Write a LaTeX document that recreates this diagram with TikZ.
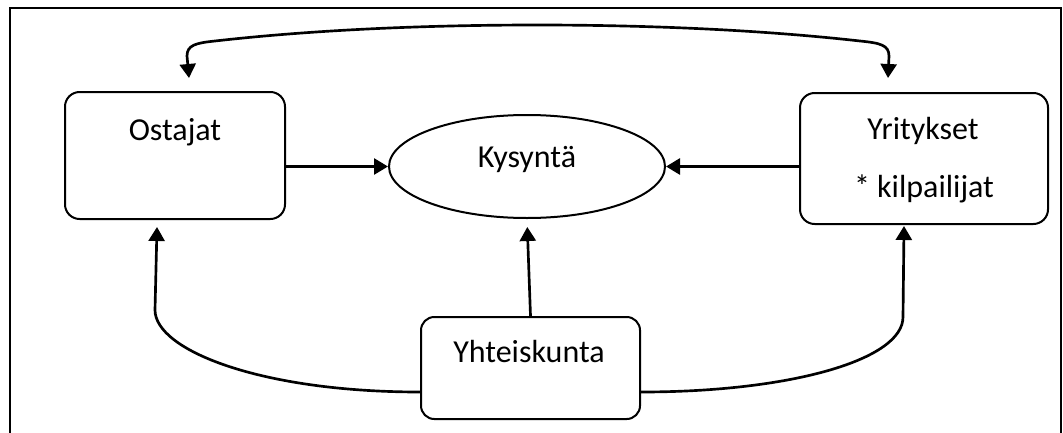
\documentclass[tikz,border=0pt]{standalone}
\usepackage{fontspec}
\setmainfont{Carlito}
\usetikzlibrary{arrows.meta,shapes.geometric}

\tikzset{
  box/.style={draw, line width=1.5pt, rounded corners=11pt, inner sep=0pt},
  oval/.style={draw, ellipse, line width=1.5pt, inner sep=0pt},
  lbl/.style={anchor=base, inner sep=0pt, font=\fontsize{24}{28}\selectfont},
  tip/.style={Triangle[length=10.5pt,width=12pt]},
  conn/.style={line width=2pt, -{Triangle[length=10.5pt,width=12pt]}},
  both/.style={line width=2pt, {Triangle[length=10.5pt,width=12pt]}-{Triangle[length=10.5pt,width=12pt]}},
  frame/.style={line width=1.6pt},
}

\begin{document}
\begin{tikzpicture}[x=0.75pt, y=-0.75pt]
  % page area
  \fill[white] (0,0) rectangle (1063,432);
  \useasboundingbox (0,0) rectangle (1063,432);

  % surrounding frame (open at the bottom edge of the page)
  \draw[frame] (10,436) -- (10,8) -- (1061,8) -- (1061,436);

  % boxes and the central ellipse
  \node[box, minimum width=165pt, minimum height=95.25pt] (ost) at (175,155.5) {};
  \node[box, minimum width=186pt, minimum height=98.25pt] (yri) at (924,158.5) {};
  \node[box, minimum width=164.25pt, minimum height=76.5pt, rounded corners=10pt] (yht) at (530.5,368) {};
  \node[oval, minimum width=207pt, minimum height=77.25pt] (kys) at (527,166.5) {};

  % labels
  \node[lbl] (tost) at (175,140) {Ostajat};
  \node[lbl] (tkys) at (527,167) {Kysyntä};
  \node[lbl] (tyri) at (923,139) {Yritykset};
  \node[lbl] (tkil) at (924,197) {* kilpailijat};
  \node[lbl] (tyht) at (529,362) {Yhteiskunta};

  % free ends of the connectors
  \coordinate (tl) at (189,78);
  \coordinate (tr) at (888,78);
  \coordinate (lt) at (157,227);
  \coordinate (rt) at (904,226);

  % straight arrows into the ellipse
  \draw[conn] (ost.east |- kys.west) -- (kys.west);
  \draw[conn] (yri.west |- kys.east) -- (kys.east);
  \draw[conn, shorten >=6pt] (yht.north) -- (kys.south);

  % curved arrows from the bottom box
  \draw[conn] ([yshift=-18pt]yht.west) .. controls (260,392) and (155,350) .. (155,310) -- (lt);
  \draw[conn] ([yshift=-18pt]yht.east) .. controls (790,392) and (903,360) .. (903,317) -- (rt);

  % two-headed arc across the top
  \draw[both] (tl) -- (187,56) .. controls (187,45) and (196,43) .. (215,41)
    .. controls (330,28) and (450,25) .. (537,25)
    .. controls (624,25) and (744,28) .. (860,41)
    .. controls (880,43) and (889,45) .. (889,56) -- (tr);
\end{tikzpicture}
\end{document}
